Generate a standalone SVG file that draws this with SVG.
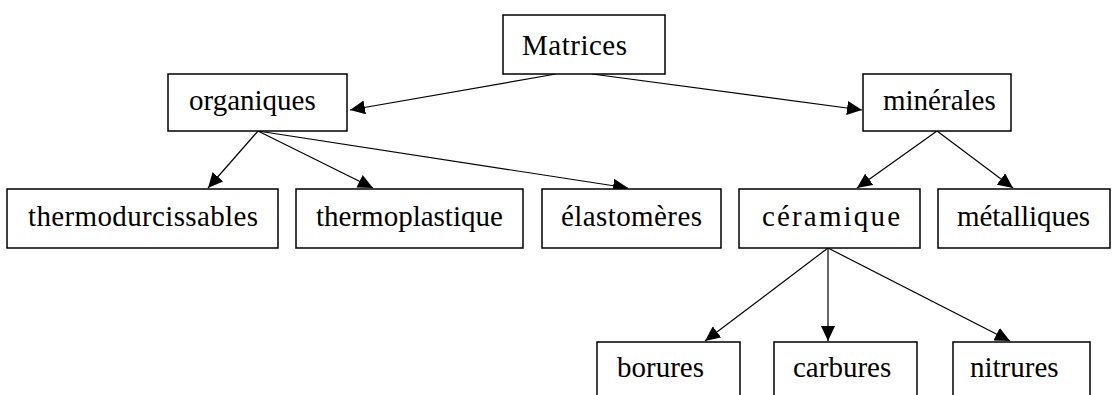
<svg xmlns="http://www.w3.org/2000/svg" width="1112" height="395" viewBox="0 0 1112 395">
<style>
.box{fill:#fff;stroke:#000;stroke-width:1.5}
.lbl{font-family:"Liberation Serif","Times New Roman",serif;font-size:29px;fill:#000}
.con{stroke:#000;stroke-width:1.2;fill:none;marker-end:url(#ah)}
</style>
<defs>
<marker id="ah" markerUnits="userSpaceOnUse" markerWidth="16" markerHeight="14" refX="15" refY="7" orient="auto">
<path d="M0,0 L15,7 L0,14 z" fill="#000"/>
</marker>
</defs>
<rect width="1112" height="395" fill="#fff"/>
<g id="connectors">
<line class="con" x1="556" y1="74" x2="350" y2="110"/>
<line class="con" x1="592" y1="74" x2="862" y2="110"/>
<line class="con" x1="258" y1="131" x2="208" y2="188"/>
<line class="con" x1="258" y1="131" x2="373" y2="188"/>
<line class="con" x1="258" y1="131" x2="628" y2="188"/>
<line class="con" x1="937" y1="131" x2="857" y2="188"/>
<line class="con" x1="937" y1="131" x2="1013" y2="188"/>
<line class="con" x1="828" y1="248" x2="705" y2="341"/>
<line class="con" x1="828" y1="248" x2="828" y2="341"/>
<line class="con" x1="828" y1="248" x2="1010" y2="341"/>
</g>
<g id="matrices"><rect class="box" x="503" y="15" width="162" height="59"/><text class="lbl" x="522" y="55" textLength="105">Matrices</text></g>
<g id="organiques"><rect class="box" x="168" y="74" width="179" height="57"/><text class="lbl" x="189" y="110">organiques</text></g>
<g id="minerales"><rect class="box" x="863" y="74" width="148" height="57"/><text class="lbl" x="883" y="110">minérales</text></g>
<g id="thermodurcissables"><rect class="box" x="7" y="189" width="271" height="59"/><text class="lbl" x="28" y="226" textLength="230">thermodurcissables</text></g>
<g id="thermoplastique"><rect class="box" x="296" y="189" width="227" height="59"/><text class="lbl" x="316" y="226">thermoplastique</text></g>
<g id="elastomeres"><rect class="box" x="542" y="189" width="179" height="59"/><text class="lbl" x="561" y="226" textLength="141">élastomères</text></g>
<g id="ceramique"><rect class="box" x="739" y="189" width="181" height="59"/><text class="lbl" x="762" y="226" textLength="138">céramique</text></g>
<g id="metalliques"><rect class="box" x="938" y="189" width="172" height="59"/><text class="lbl" x="957" y="226" textLength="133">métalliques</text></g>
<g id="borures"><rect class="box" x="597" y="342" width="143" height="62"/><text class="lbl" x="617" y="377">borures</text></g>
<g id="carbures"><rect class="box" x="774" y="342" width="143" height="62"/><text class="lbl" x="793" y="377">carbures</text></g>
<g id="nitrures"><rect class="box" x="953" y="342" width="137" height="62"/><text class="lbl" x="970" y="377">nitrures</text></g>
</svg>
